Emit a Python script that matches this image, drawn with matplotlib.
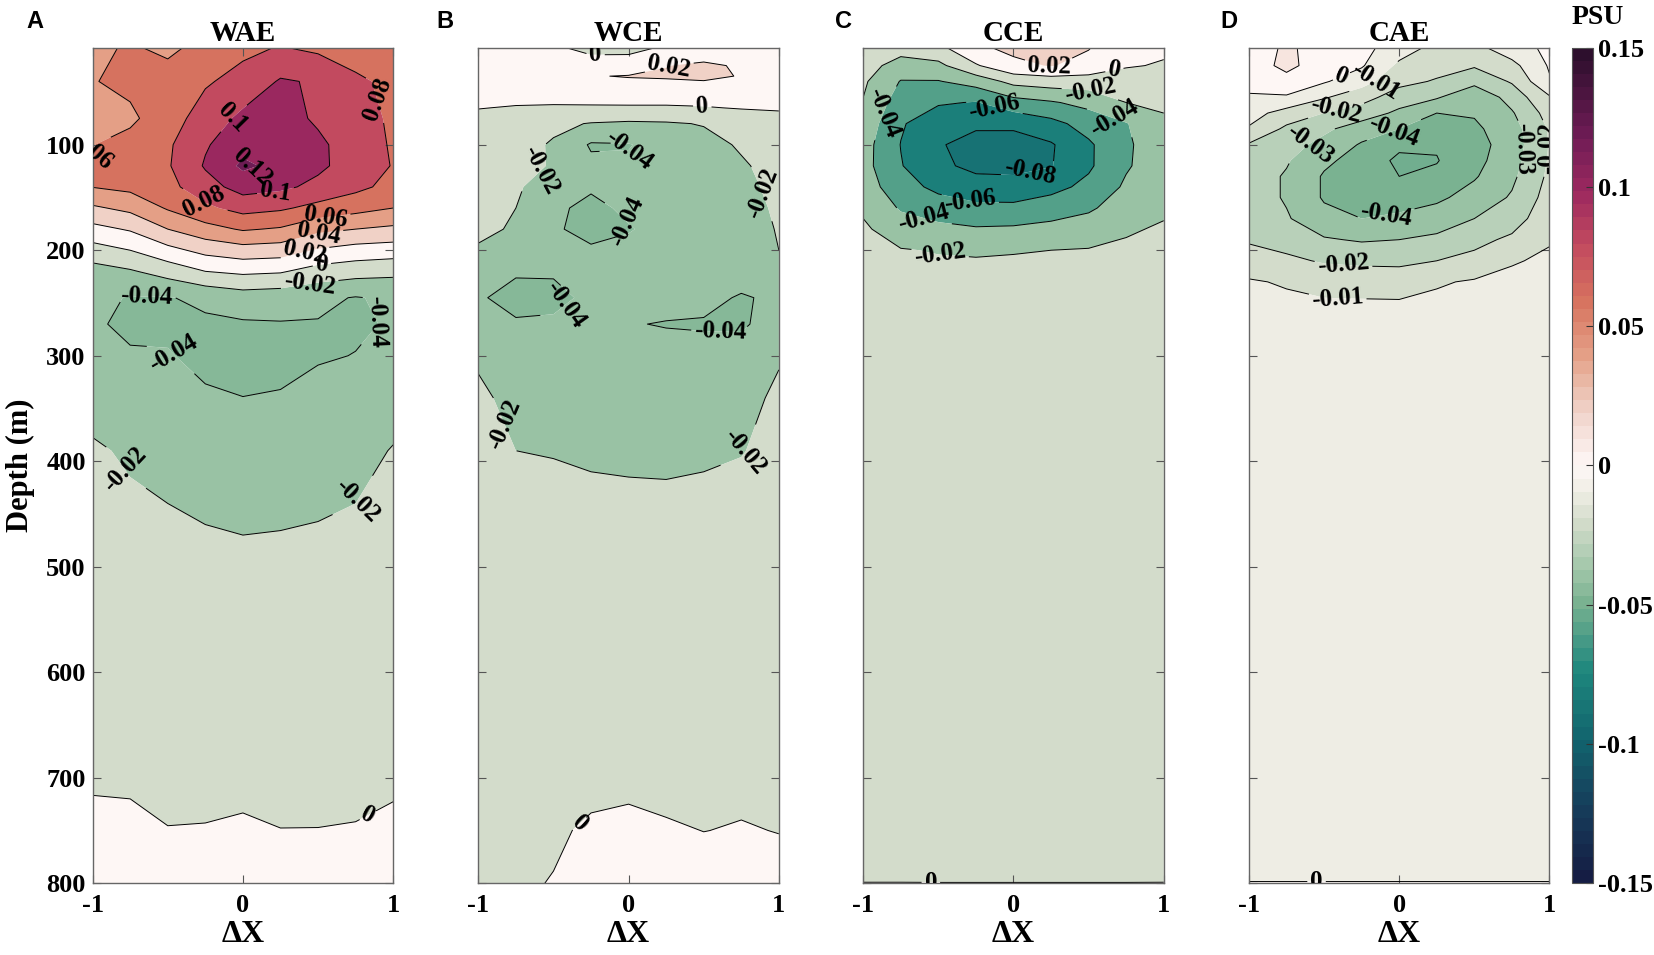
import numpy as np
import matplotlib.pyplot as plt
from matplotlib.colors import LinearSegmentedColormap, Normalize
from matplotlib.cm import ScalarMappable

plt.rcParams['font.family'] = ['Liberation Serif', 'DejaVu Serif']
plt.rcParams['font.weight'] = 'bold'
plt.rcParams['axes.titleweight'] = 'bold'
plt.rcParams['axes.labelweight'] = 'bold'
plt.rcParams['contour.negative_linestyle'] = 'solid'

# horizontal position across the eddy (normalised)
dx = [-1, -0.75, -0.5, -0.25, 0, 0.25, 0.5, 0.75, 1]

# salinity anomaly (PSU), one row per depth, one column per dx
depth_wae = [8, 40, 75, 100, 120, 140, 160, 180, 200, 220, 245, 270, 300, 340, 390, 440, 500, 600, 700, 750, 800]
wae = [
    [0.058, 0.061, 0.058, 0.063, 0.076, 0.081, 0.076, 0.072, 0.068],
    [0.059, 0.065, 0.064, 0.078, 0.086, 0.102, 0.098, 0.083, 0.076],
    [0.0595, 0.056, 0.072, 0.088, 0.105, 0.108, 0.097, 0.088, 0.077],
    [0.0595, 0.067, 0.077, 0.098, 0.113, 0.112, 0.104, 0.090, 0.078],
    [0.061, 0.068, 0.078, 0.102, 0.124, 0.114, 0.104, 0.091, 0.079],
    [0.0605, 0.065, 0.074, 0.092, 0.108, 0.104, 0.095, 0.085, 0.074],
    [0.037, 0.045, 0.062, 0.076, 0.087, 0.083, 0.074, 0.067, 0.060],
    [0.014, 0.022, 0.040, 0.053, 0.062, 0.058, 0.045, 0.040, 0.036],
    [-0.008, 0.000, 0.014, 0.026, 0.032, 0.030, 0.018, 0.012, 0.010],
    [-0.028, -0.022, -0.012, 0.000, 0.004, 0.002, -0.008, -0.012, -0.015],
    [-0.036, -0.041, -0.041, -0.036, -0.030, -0.032, -0.036, -0.041, -0.037],
    [-0.038, -0.043, -0.043, -0.043, -0.042, -0.041, -0.041, -0.043, -0.038],
    [-0.035, -0.0385, -0.039, -0.044, -0.046, -0.044, -0.042, -0.0395, -0.036],
    [-0.026, -0.030, -0.033, -0.038, -0.0398, -0.039, -0.033, -0.030, -0.028],
    [-0.018, -0.022, -0.025, -0.030, -0.033, -0.032, -0.029, -0.026, -0.019],
    [-0.012, -0.018, -0.020, -0.022, -0.024, -0.023, -0.022, -0.020, -0.015],
    [-0.009, -0.012, -0.014, -0.016, -0.016, -0.016, -0.015, -0.013, -0.011],
    [-0.006, -0.008, -0.008, -0.010, -0.010, -0.010, -0.010, -0.009, -0.007],
    [-0.0005, -0.001, -0.003, -0.003, -0.003, -0.004, -0.005, -0.004, -0.001],
    [0.001, 0.0015, 0.0003, 0.0005, 0.0015, 0.0002, 0.0003, 0.0008, 0.0012],
    [0.002, 0.002, 0.002, 0.002, 0.002, 0.002, 0.002, 0.002, 0.002],
]

depth_wce = [8, 25, 35, 50, 65, 80, 100, 120, 140, 160, 180, 200, 220, 245, 270, 300, 340, 390, 420, 500, 600, 700, 750, 800]
wce = [
    [0.005, 0.006, 0.002, -0.004, -0.005, 0.002, 0.008, 0.010, 0.008],
    [0.006, 0.008, 0.008, 0.006, 0.008, 0.0195, 0.023, 0.018, 0.010],
    [0.006, 0.009, 0.015, 0.019, 0.021, 0.022, 0.024, 0.019, 0.010],
    [0.004, 0.006, 0.008, 0.009, 0.010, 0.010, 0.010, 0.009, 0.006],
    [0.0005, -0.001, -0.002, -0.002, -0.002, -0.002, -0.001, 0.001, 0.002],
    [-0.006, -0.009, -0.016, -0.021, -0.023, -0.022, -0.019, -0.012, -0.008],
    [-0.010, -0.013, -0.022, -0.042, -0.041, -0.032, -0.026, -0.018, -0.012],
    [-0.012, -0.016, -0.021, -0.036, -0.037, -0.033, -0.029, -0.022, -0.014],
    [-0.014, -0.018, -0.028, -0.038, -0.036, -0.034, -0.030, -0.024, -0.016],
    [-0.016, -0.020, -0.037, -0.044, -0.037, -0.034, -0.031, -0.025, -0.018],
    [-0.018, -0.021, -0.038, -0.045, -0.041, -0.035, -0.032, -0.027, -0.019],
    [-0.021, -0.025, -0.033, -0.038, -0.036, -0.034, -0.032, -0.028, -0.020],
    [-0.028, -0.038, -0.038, -0.034, -0.033, -0.032, -0.032, -0.030, -0.023],
    [-0.038, -0.046, -0.045, -0.036, -0.032, -0.033, -0.034, -0.042, -0.036],
    [-0.032, -0.038, -0.037, -0.034, -0.039, -0.041, -0.042, -0.043, -0.030],
    [-0.023, -0.030, -0.031, -0.032, -0.033, -0.033, -0.033, -0.031, -0.022],
    [-0.016, -0.026, -0.028, -0.029, -0.030, -0.030, -0.029, -0.027, -0.016],
    [-0.012, -0.020, -0.021, -0.024, -0.025, -0.025, -0.024, -0.021, -0.013],
    [-0.009, -0.015, -0.017, -0.018, -0.019, -0.0195, -0.018, -0.016, -0.010],
    [-0.007, -0.010, -0.012, -0.013, -0.013, -0.013, -0.012, -0.011, -0.008],
    [-0.005, -0.006, -0.007, -0.008, -0.008, -0.008, -0.007, -0.006, -0.005],
    [-0.003, -0.003, -0.003, -0.002, -0.002, -0.003, -0.003, -0.002, -0.003],
    [-0.002, -0.002, -0.001, 0.001, 0.002, 0.001, -0.0001, 0.0005, -0.0002],
    [-0.001, -0.001, 0.0003, 0.004, 0.005, 0.005, 0.004, 0.004, 0.003],
]

depth_cce = [8, 25, 40, 60, 80, 100, 120, 140, 160, 180, 200, 220, 250, 300, 400, 500, 600, 700, 800]
cce = [
    [-0.006, -0.012, -0.005, 0.017, 0.024, 0.025, 0.021, 0.006, 0.004],
    [-0.012, -0.028, -0.025, -0.002, 0.016, 0.021, 0.014, 0.002, -0.002],
    [-0.017, -0.041, -0.041, -0.032, -0.014, -0.010, -0.010, -0.012, -0.009],
    [-0.021, -0.050, -0.058, -0.061, -0.048, -0.042, -0.034, -0.020, -0.016],
    [-0.027, -0.058, -0.072, -0.076, -0.075, -0.066, -0.052, -0.041, -0.024],
    [-0.032, -0.0605, -0.078, -0.088, -0.090, -0.082, -0.063, -0.043, -0.028],
    [-0.033, -0.059, -0.075, -0.086, -0.087, -0.081, -0.063, -0.042, -0.029],
    [-0.030, -0.052, -0.065, -0.070, -0.071, -0.066, -0.055, -0.037, -0.027],
    [-0.023, -0.042, -0.050, -0.056, -0.056, -0.050, -0.043, -0.030, -0.023],
    [-0.017, -0.030, -0.035, -0.038, -0.037, -0.034, -0.030, -0.022, -0.018],
    [-0.014, -0.019, -0.021, -0.022, -0.021, -0.020, -0.019, -0.017, -0.015],
    [-0.012, -0.015, -0.016, -0.016, -0.016, -0.015, -0.014, -0.014, -0.013],
    [-0.011, -0.012, -0.013, -0.013, -0.013, -0.012, -0.012, -0.012, -0.012],
    [-0.010, -0.011, -0.011, -0.011, -0.011, -0.011, -0.011, -0.011, -0.011],
    [-0.009, -0.010, -0.010, -0.010, -0.010, -0.010, -0.010, -0.010, -0.010],
    [-0.008, -0.009, -0.009, -0.009, -0.009, -0.009, -0.009, -0.009, -0.009],
    [-0.007, -0.007, -0.008, -0.008, -0.008, -0.008, -0.008, -0.008, -0.007],
    [-0.005, -0.005, -0.006, -0.006, -0.006, -0.006, -0.006, -0.006, -0.005],
    [0.00005, 0.00005, 0.00005, 0.00005, 0.00005, 0.00005, 0.00005, 0.00005, 0.00005],
]

depth_cae = [8, 25, 40, 55, 70, 85, 100, 115, 130, 150, 170, 190, 210, 230, 250, 300, 400, 500, 600, 700, 800]
cae = [
    [0.003, 0.012, 0.005, 0.003, -0.005, -0.013, -0.013, -0.004, 0.002],
    [0.004, 0.013, 0.004, 0.001, -0.012, -0.016, -0.019, -0.013, 0.001],
    [0.003, 0.006, 0.001, -0.006, -0.017, -0.021, -0.027, -0.019, -0.001],
    [-0.001, -0.001, -0.009, -0.016, -0.025, -0.029, -0.038, -0.026, -0.011],
    [-0.006, -0.014, -0.020, -0.025, -0.032, -0.040, -0.039, -0.031, -0.016],
    [-0.011, -0.022, -0.028, -0.035, -0.040, -0.046, -0.042, -0.034, -0.019],
    [-0.021, -0.026, -0.033, -0.041, -0.048, -0.049, -0.044, -0.035, -0.0195],
    [-0.023, -0.029, -0.038, -0.044, -0.052, -0.0505, -0.043, -0.034, -0.019],
    [-0.025, -0.031, -0.041, -0.046, -0.050, -0.048, -0.041, -0.032, -0.018],
    [-0.025, -0.031, -0.041, -0.046, -0.045, -0.042, -0.036, -0.029, -0.016],
    [-0.024, -0.029, -0.037, -0.040, -0.038, -0.035, -0.030, -0.025, -0.013],
    [-0.021, -0.024, -0.029, -0.031, -0.030, -0.028, -0.023, -0.018, -0.011],
    [-0.016, -0.018, -0.021, -0.022, -0.022, -0.020, -0.017, -0.011, -0.008],
    [-0.009, -0.011, -0.013, -0.014, -0.015, -0.011, -0.009, -0.007, -0.006],
    [-0.007, -0.008, -0.009, -0.009, -0.009, -0.008, -0.007, -0.006, -0.005],
    [-0.006, -0.006, -0.006, -0.007, -0.007, -0.007, -0.006, -0.006, -0.005],
    [-0.005, -0.005, -0.005, -0.006, -0.006, -0.006, -0.005, -0.005, -0.005],
    [-0.005, -0.005, -0.005, -0.005, -0.005, -0.005, -0.005, -0.005, -0.004],
    [-0.004, -0.004, -0.004, -0.004, -0.004, -0.004, -0.004, -0.004, -0.004],
    [-0.003, -0.003, -0.003, -0.003, -0.003, -0.003, -0.003, -0.003, -0.003],
    [0.00005, 0.00005, 0.00005, 0.00005, 0.00005, 0.00005, 0.00005, 0.00005, 0.00005],
]

names = ['WAE', 'WCE', 'CCE', 'CAE']
tags = ['A', 'B', 'C', 'D']
depths = [depth_wae, depth_wce, depth_cce, depth_cae]
fields = [wae, wce, cce, cae]

line_levels = {
    'WAE': [-0.04, -0.02, 0, 0.02, 0.04, 0.06, 0.08, 0.1, 0.12],
    'WCE': [-0.04, -0.02, 0, 0.02],
    'CCE': [-0.08, -0.06, -0.04, -0.02, 0, 0.02],
    'CAE': [-0.05, -0.04, -0.03, -0.02, -0.01, 0, 0.01],
}

# where the contour labels sit (dx, depth)
label_spots = {
    'WAE': {0.12: [(0.06, 120)], 0.1: [(-0.08, 72), (0.22, 148)],
            0.08: [(-0.27, 157), (0.93, 55)], 0.06: [(-0.95, 115), (0.55, 167)],
            0.04: [(0.5, 180)], 0.02: [(0.4, 194)], 0: [(0.52, 206), (0.83, 735)],
            -0.02: [(0.44, 228), (-0.88, 417), (0.76, 437)],
            -0.04: [(-0.64, 248), (0.93, 265), (-0.5, 303)]},
    'WCE': {0: [(-0.22, 17), (0.49, 66), (-0.35, 740)], 0.02: [(0.27, 26)],
            -0.02: [(-0.61, 120), (0.81, 151), (-0.9, 370), (0.74, 387)],
            -0.04: [(0.01, 107), (0.03, 167), (-0.43, 249), (0.61, 276)]},
    'CCE': {0.02: [(0.24, 18)], 0: [(0.67, 28), (-0.55, 799)],
            -0.02: [(0.51, 50), (-0.49, 205)],
            -0.04: [(-0.89, 68), (0.64, 88), (-0.6, 170)],
            -0.06: [(-0.13, 66), (-0.29, 154)], -0.08: [(0.11, 127)]},
    'CAE': {0: [(-0.37, 40), (-0.55, 799)], -0.01: [(-0.15, 40), (-0.41, 243)],
            -0.02: [(-0.42, 68), (0.97, 103), (-0.37, 211)],
            -0.03: [(-0.59, 100), (0.79, 103)], -0.04: [(-0.04, 84), (-0.08, 173)]},
}

# diverging green/purple colour scale
curl_pts = [(-0.15, '#151d44'), (-0.125, '#163c5a'), (-0.10, '#12646e'), (-0.075, '#1e877d'),
            (-0.05, '#7ab291'), (-0.04, '#9bc3a5'), (-0.02, '#d5ddcc'), (-0.01, '#eeede4'),
            (0.0, '#fef8f6'), (0.02, '#f0d2c8'), (0.04, '#e4a087'), (0.06, '#d7735f'),
            (0.08, '#c34b5f'), (0.10, '#9b285f'), (0.12, '#6e1c55'), (0.15, '#2d0f2d')]
cmap = LinearSegmentedColormap.from_list('curl', [((v + 0.15) / 0.3, c) for v, c in curl_pts])
norm = Normalize(-0.15, 0.15)


def fmt(v):
    s = f"{round(v, 3):g}"
    return '0' if s == '-0' else s


fig = plt.figure(figsize=(16.54, 9.55), dpi=100)
lefts = [0.0560, 0.2892, 0.5219, 0.7551]
tag_x = [0.016, 0.264, 0.505, 0.7376]

for i, name in enumerate(names):
    ax = fig.add_axes([lefts[i], 0.0751, 0.1817, 0.875])
    z = np.array(fields[i])
    d = depths[i]
    lo, hi = z.min(), z.max()
    lines = [l for l in line_levels[name] if lo < l < hi]
    bounds = [lo - 1e-6] + lines + [hi + 1e-6]
    # each band takes the colour of its lower bound (lowest band: data minimum)
    band_cols = [cmap(norm(v)) for v in [lo] + lines]
    ax.contourf(dx, d, z, levels=bounds, colors=band_cols, antialiased=True)
    for lev in lines:
        cs = ax.contour(dx, d, z, levels=[lev], colors='k', linewidths=0.7,
                        linestyles='solid')
        spots = label_spots[name].get(lev)
        if spots:
            txts = ax.clabel(cs, manual=spots, inline=True, inline_spacing=3,
                             fontsize=18, fmt=fmt)
            for t in txts:
                t.set_fontfamily('Liberation Serif')
                t.set_fontweight('bold')

    ax.set_xlim(-1, 1)
    ax.set_ylim(800, 8)
    ax.set_xticks([-1, 0, 1])
    ax.set_xticklabels(['-1', '0', '1'])
    ax.set_yticks([100, 200, 300, 400, 500, 600, 700, 800])
    ax.tick_params(direction='in', top=True, right=True, length=6, width=0.8,
                   color='#555555', labelsize=19)
    ax.tick_params(axis='x', pad=8)
    ax.tick_params(axis='y', pad=5)
    if i > 0:
        ax.set_yticklabels([])
    else:
        ax.set_ylabel('Depth (m)', fontsize=22, labelpad=8)
    for sp in ax.spines.values():
        sp.set_edgecolor('#666666')
        sp.set_linewidth(1.0)
    ax.set_xlabel('ΔX', fontsize=23, labelpad=2)
    ax.set_title(name, fontsize=21, pad=5)
    fig.text(tag_x[i], 0.971, tags[i], family='Liberation Sans', fontsize=17,
             fontweight='bold', ha='left', va='baseline')

cax = fig.add_axes([0.9502, 0.0751, 0.0131, 0.875])
cb_ticks = [-0.15, -0.1, -0.05, 0, 0.05, 0.1, 0.15]
cb = fig.colorbar(ScalarMappable(norm=norm, cmap=cmap.resampled(64)), cax=cax, ticks=cb_ticks)
cb.ax.set_yticklabels(['-0.15', '-0.1', '-0.05', '0', '0.05', '0.1', '0.15'])
cb.ax.tick_params(direction='in', length=5, width=0.8, color='#333333', labelsize=19)
cb.outline.set_edgecolor('#555555')
fig.text(0.9662, 0.9746, 'PSU', fontsize=20, ha='center', va='baseline')

fig.savefig('out.png', dpi=100)
